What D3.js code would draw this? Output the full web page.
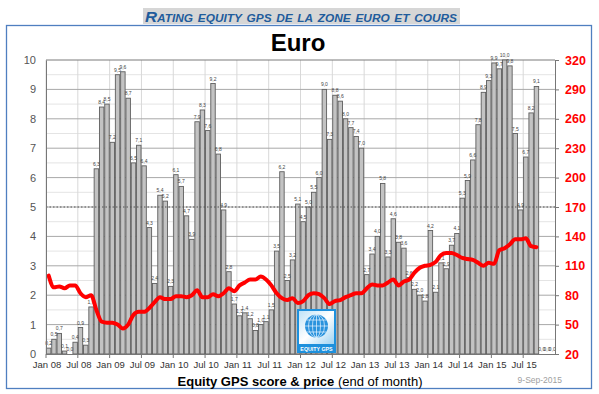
<!DOCTYPE html>
<html>
<head>
<meta charset="utf-8">
<script src="https://cdn.jsdelivr.net/npm/d3@7"></script>
<style>
	body { margin: 0; background: #fff; }
	svg { display: block; font-family: "Liberation Sans", Arial, sans-serif; }
</style>
</head>
<body>
<svg id="chart" width="599" height="394"></svg>
<script>
// Equity GPS score, end of month, Jan 08 .. Dec 15
const scores = [
	0.2, 0.5, 0.7, 0.1, 0.0, 0.4, 0.9, 0.3, 1.6, 6.3, 8.4, 8.5,
	7.2, 9.5, 9.6, 8.7, 6.5, 7.1, 6.4, 4.3, 2.4, 5.4, 5.2, 2.3,
	6.1, 5.7, 4.7, 3.9, 7.9, 8.3, 7.6, 9.2, 6.8, 4.9, 2.8, 1.7,
	1.3, 1.4, 1.2, 0.8, 1.0, 1.1, 1.5, 3.5, 6.2, 2.5, 3.2, 5.1,
	4.5, 5.0, 5.5, 6.0, 9.0, 7.3, 8.8, 8.6, 8.0, 7.7, 7.4, 7.0,
	2.7, 3.4, 4.0, 5.8, 3.3, 4.6, 3.8, 3.6, 2.6, 2.2, 2.0, 1.8,
	4.2, 2.1, 3.1, 2.9, 3.7, 4.1, 5.3, 5.9, 6.6, 7.8, 8.9, 9.3,
	9.9, 9.7, 10.0, 9.8, 7.5, 4.9, 6.7, 8.2, 9.1, 0.0, 0.0, 0.0
];
// price (right axis), null where not yet known
const prices = [
	100, 88, 89, 87, 90, 90, 82, 78, 80, 65, 53, 52,
	52, 50, 46, 50, 60, 63, 63, 67, 73, 78, 76, 76,
	79, 79, 78, 80, 85, 78, 78, 81, 79, 82, 87, 84,
	90, 93, 96, 96, 99, 96, 90, 82, 77, 75, 77, 72,
	74, 80, 82, 81, 77, 71, 74, 75, 78, 80, 82, 82,
	87, 91, 90, 90, 93, 96, 90, 94, 96, 103, 108, 110,
	111, 114, 121, 123, 123, 121, 118, 117, 116, 113, 110, 113,
	112, 126, 128, 132, 137, 137, 138, 130, 129, null, null, null
];
const tickLabels = ['Jan 08', 'Jul 08', 'Jan 09', 'Jul 09', 'Jan 10', 'Jul 10', 'Jan 11', 'Jul 11',
	'Jan 12', 'Jul 12', 'Jan 13', 'Jul 13', 'Jan 14', 'Jul 14', 'Jan 15', 'Jul 15'];
const leftTicks = [0, 1, 2, 3, 4, 5, 6, 7, 8, 9, 10];
const rightTicks = [20, 50, 80, 110, 140, 170, 200, 230, 260, 290, 320];

const months = d3.range(scores.length);
const L = 46, R = 555, T = 60, B = 354;

let svg = d3.select('#chart');

// title bar + frame
svg.append('rect').attr('x', 143).attr('y', 8).attr('width', 317).attr('height', 16).attr('fill', '#d6d6d6');
svg.append('text').attr('x', 301).attr('y', 21.5).attr('text-anchor', 'middle')
	.attr('fill', '#1f5c9c').attr('font-style', 'italic').attr('font-weight', 'bold')
	.attr('font-size', 15.5).style('font-variant', 'small-caps')
	.attr('textLength', 312).attr('lengthAdjust', 'spacingAndGlyphs')
	.text('Rating equity gps de la zone euro et cours');
svg.append('rect').attr('x', 6.5).attr('y', 25.5).attr('width', 585).attr('height', 363)
	.attr('fill', 'none').attr('stroke', '#4f7fc0').attr('stroke-width', 1.3);

svg.append('text').attr('x', 298).attr('y', 51).attr('text-anchor', 'middle')
	.attr('font-size', 24).attr('font-weight', 'bold').text('Euro');

let x = d3.scaleBand().domain(months).range([L, R]).paddingInner(0.16).paddingOuter(0.08);
let step = x.step();
let y = d3.scaleLinear().domain([0, 10]).range([B, T]);
let y2 = d3.scaleLinear().domain([20, 320]).range([B, T]);

// grid
let g = svg.append('g');
g.selectAll('line.minor').data(d3.range(0.5, 10, 1)).enter().append('line')
	.attr('x1', L).attr('x2', R).attr('y1', d => y(d)).attr('y2', d => y(d))
	.attr('stroke', '#e4e4e4');
g.selectAll('line.vg').data(tickLabels).enter().append('line')
	.attr('x1', (d, i) => L + i * 6 * step).attr('x2', (d, i) => L + i * 6 * step)
	.attr('y1', T).attr('y2', B).attr('stroke', '#d8d8d8');
g.selectAll('line.major').data(leftTicks.slice(1)).enter().append('line')
	.attr('x1', L).attr('x2', R).attr('y1', d => y(d)).attr('y2', d => y(d))
	.attr('stroke', d => d === 10 ? '#7a7a7a' : '#a8a8a8');

// bars
svg.append('g').selectAll('rect').data(scores).enter().append('rect')
	.attr('x', (d, i) => x(i)).attr('width', x.bandwidth())
	.attr('y', d => y(d)).attr('height', d => B - y(d))
	.attr('fill', '#c3c3c3').attr('stroke', '#5e5e5e').attr('stroke-width', 0.9);

// dotted level 5
svg.append('line').attr('x1', L).attr('x2', R).attr('y1', y(5)).attr('y2', y(5))
	.attr('stroke', '#555').attr('stroke-dasharray', '1.5,2').attr('stroke-width', 1);

// bar labels
svg.append('g').selectAll('text').data(scores).enter().append('text')
	.attr('x', (d, i) => x(i) + x.bandwidth() / 2).attr('y', d => y(d) - 3)
	.attr('text-anchor', 'middle').attr('font-size', 5).attr('fill', '#444')
	.text(d => d.toFixed(1).replace('.', ','));

// price line
let line = d3.line()
	.defined(d => d !== null)
	.x((d, i) => x(i) + x.bandwidth() / 2)
	.y(d => y2(d))
	.curve(d3.curveMonotoneX);
svg.append('path').datum(prices).attr('d', line)
	.attr('fill', 'none').attr('stroke', '#ff0000').attr('stroke-width', 4)
	.attr('stroke-linejoin', 'round').attr('stroke-linecap', 'round');

// axes
let yAxis = d3.axisLeft(y).tickValues(leftTicks).tickSize(0).tickPadding(10);
svg.append('g').attr('transform', `translate(${L},0)`).call(yAxis)
	.call(a => a.select('.domain').attr('stroke', '#777'))
	.selectAll('text').attr('font-size', 11).attr('fill', '#555').attr('font-family', '"Liberation Sans", Arial');

let y2Axis = d3.axisRight(y2).tickValues(rightTicks).tickSize(4).tickPadding(6);
svg.append('g').attr('transform', `translate(${R},0)`).call(y2Axis)
	.call(a => a.select('.domain').attr('stroke', '#777'))
	.call(a => a.selectAll('line').attr('stroke', '#777'))
	.selectAll('text').attr('font-size', 12.5).attr('font-weight', 'bold').attr('fill', '#ff0000')
	.attr('font-family', '"Liberation Sans", Arial');

let xa = svg.append('g');
xa.append('line').attr('x1', L).attr('x2', R).attr('y1', B + 0.5).attr('y2', B + 0.5).attr('stroke', '#777');
xa.selectAll('line.t').data(tickLabels).enter().append('line')
	.attr('x1', (d, i) => L + i * 6 * step).attr('x2', (d, i) => L + i * 6 * step)
	.attr('y1', B).attr('y2', B + 4).attr('stroke', '#777');
xa.selectAll('text').data(tickLabels).enter().append('text')
	.attr('x', (d, i) => L + 1 + i * 6 * step).attr('y', 368)
	.attr('text-anchor', 'middle').attr('font-size', 9.5).attr('fill', '#333')
	.text(d => d);

let xt = svg.append('text').attr('x', 300).attr('y', 386).attr('text-anchor', 'middle').attr('font-size', 13);
xt.append('tspan').attr('font-weight', 'bold').text('Equity GPS score & price ');
xt.append('tspan').text('(end of month)');

svg.append('text').attr('x', 562).attr('y', 383).attr('text-anchor', 'end')
	.attr('font-size', 8.5).attr('fill', '#a0a0a0').text('9-Sep-2015');

// logo
let defs = svg.append('defs');
let lg = defs.append('linearGradient').attr('id', 'lg').attr('x1', 0).attr('y1', 0).attr('x2', 1).attr('y2', 1);
lg.append('stop').attr('offset', 0).attr('stop-color', '#bfe3f7');
lg.append('stop').attr('offset', 0.5).attr('stop-color', '#ffffff');
lg.append('stop').attr('offset', 1).attr('stop-color', '#9fd3f2');
let logo = svg.append('g').attr('transform', 'translate(297,309)');
logo.append('rect').attr('width', 39).attr('height', 44).attr('fill', '#1e90dc');
logo.append('rect').attr('x', 2).attr('y', 2).attr('width', 35).attr('height', 33).attr('fill', 'url(#lg)');
logo.append('circle').attr('cx', 19.5).attr('cy', 17).attr('r', 11.5).attr('fill', '#2a93dd');
let gl = logo.append('g').attr('stroke', '#e8f5ff').attr('stroke-width', 0.7).attr('fill', 'none');
[-6, 0, 6].forEach(dy => {
	gl.append('line').attr('x1', 19.5 - Math.sqrt(132 - dy * dy)).attr('x2', 19.5 + Math.sqrt(132 - dy * dy))
		.attr('y1', 17 + dy).attr('y2', 17 + dy);
});
[4, 8].forEach(rx => {
	gl.append('ellipse').attr('cx', 19.5).attr('cy', 17).attr('rx', rx).attr('ry', 11.5);
});
gl.append('line').attr('x1', 19.5).attr('x2', 19.5).attr('y1', 5.5).attr('y2', 28.5);
logo.append('text').attr('x', 19.5).attr('y', 41.5).attr('text-anchor', 'middle')
	.attr('font-size', 5.3).attr('font-weight', 'bold').attr('fill', '#fff').text('EQUITY GPS');
</script>
</body>
</html>
